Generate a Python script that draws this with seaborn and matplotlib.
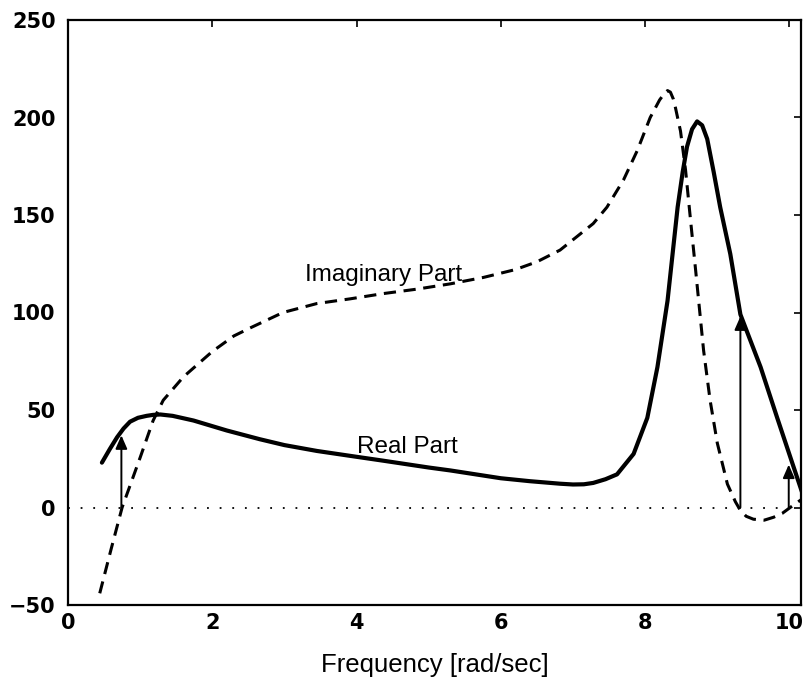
import numpy as np
import pandas as pd
import matplotlib
matplotlib.use("Agg")
import matplotlib.pyplot as plt
import seaborn as sns

# ---- data ----
real_x = [0.47, 0.58, 0.68, 0.77, 0.86, 0.97, 1.09, 1.18, 1.28, 1.45, 1.74, 2.2, 2.66, 3.0,
          3.45, 4.0, 4.37, 5.0, 5.3, 6.0, 6.4, 6.82, 7.0, 7.15, 7.28, 7.45, 7.61, 7.84, 8.03,
          8.17, 8.31, 8.45, 8.52, 8.58, 8.65, 8.72, 8.79, 8.86, 8.95, 9.04, 9.18, 9.32,
          9.6, 9.83, 10.06, 10.2]
real_y = [23, 30, 36, 40.5, 44, 46, 47, 47.5, 47.7, 47, 44.6, 39.5, 35, 32,
          29, 26, 24, 20.5, 19, 15, 13.5, 12.2, 11.8, 11.9, 12.6, 14.5, 17, 27.5, 46,
          72, 106, 154, 172, 185, 194, 198, 196, 189, 172, 154, 130, 99,
          72, 46, 20.5, 5]

imag_x = [0.44, 0.6, 0.75, 1.0, 1.18, 1.32, 1.6, 2.0, 2.3, 2.52, 2.98, 3.45, 3.91, 4.37,
          4.84, 5.3, 5.76, 6.2, 6.5, 6.82, 7.28, 7.47, 7.7, 7.89, 8.07, 8.2, 8.27, 8.31,
          8.35, 8.39, 8.42, 8.49, 8.56, 8.63, 8.7, 8.81, 8.9, 9.0, 9.14, 9.25, 9.32, 9.4,
          9.5, 9.65, 9.78, 9.9, 10.01, 10.2]
imag_y = [-44, -21, 0, 25.6, 44.6, 55, 67, 80, 88, 92, 100, 104.6, 107, 109.7,
          112, 114.7, 118, 122, 126, 132, 145.6, 154, 168, 183, 200, 209, 212.5, 213.8,
          213, 209.5, 205, 193, 173, 147, 121.5, 80.5, 55, 33, 12, 3, -1.5, -4.5,
          -6, -6.5, -5, -3, 0, 5]

stem_x = [0.74, 9.32, 9.99]
stem_y = [37, 98, 22]

x_ticks = [0, 2, 4, 6, 8, 10]
y_ticks = [-50, 0, 50, 100, 150, 200, 250]
x_label = "Frequency [rad/sec]"
label_imag = "Imaginary Part"
label_real = "Real Part"

# ---- plotting ----
sns.set_style("white")
plt.rcParams['font.family'] = ['Liberation Sans', 'DejaVu Sans']
for k in ["text.color", "axes.labelcolor", "xtick.color", "ytick.color"]:
    plt.rcParams[k] = "black"

fig = plt.figure(figsize=(8.07, 6.81), dpi=100)
ax = fig.add_axes([68/807, 1-605/681, (801-68)/807, (605-20)/681])

real_df = pd.DataFrame({"x": real_x, "y": real_y})
imag_df = pd.DataFrame({"x": imag_x, "y": imag_y})

ax.axhline(0, color="black", lw=1.3, linestyle=(0, (1, 6.0)), zorder=1)
sns.lineplot(data=real_df, x="x", y="y", ax=ax, color="black", lw=3.0,
             sort=False, estimator=None)
sns.lineplot(data=imag_df, x="x", y="y", ax=ax, color="black", lw=2.2,
             linestyle=(0, (4, 2.5)), sort=False, estimator=None)
for line in ax.get_lines():
    line.set_solid_joinstyle("round")
    line.set_dash_joinstyle("round")

for sx, sy in zip(stem_x, stem_y):
    ax.annotate("", xy=(sx, sy), xytext=(sx, 0),
                arrowprops=dict(arrowstyle="-|>,head_length=0.8,head_width=0.35",
                                color="black", lw=1.4, shrinkA=0, shrinkB=0))

ax.text(4.37, 119, label_imag, ha="center", va="center", fontsize=17.5)
ax.text(4.7, 31, label_real, ha="center", va="center", fontsize=17.5)

ax.set_xlim(0, 10.16)
ax.set_ylim(-50, 250)
ax.set_xticks(x_ticks)
ax.set_yticks(y_ticks)
ax.set_xlabel(x_label, fontsize=18.5, labelpad=14)
ax.set_ylabel("")
ax.tick_params(axis="both", which="both", direction="in", length=5, width=1.2,
               top=True, right=True)
ax.tick_params(axis="x", pad=6)
ax.tick_params(axis="y", pad=9)
for lab in ax.get_xticklabels() + ax.get_yticklabels():
    lab.set_fontfamily("DejaVu Sans")
    lab.set_fontweight("bold")
    lab.set_fontsize(15)
for sp in ax.spines.values():
    sp.set_visible(True)
    sp.set_color("black")
    sp.set_linewidth(1.6)

fig.savefig("out.png", dpi=100)
